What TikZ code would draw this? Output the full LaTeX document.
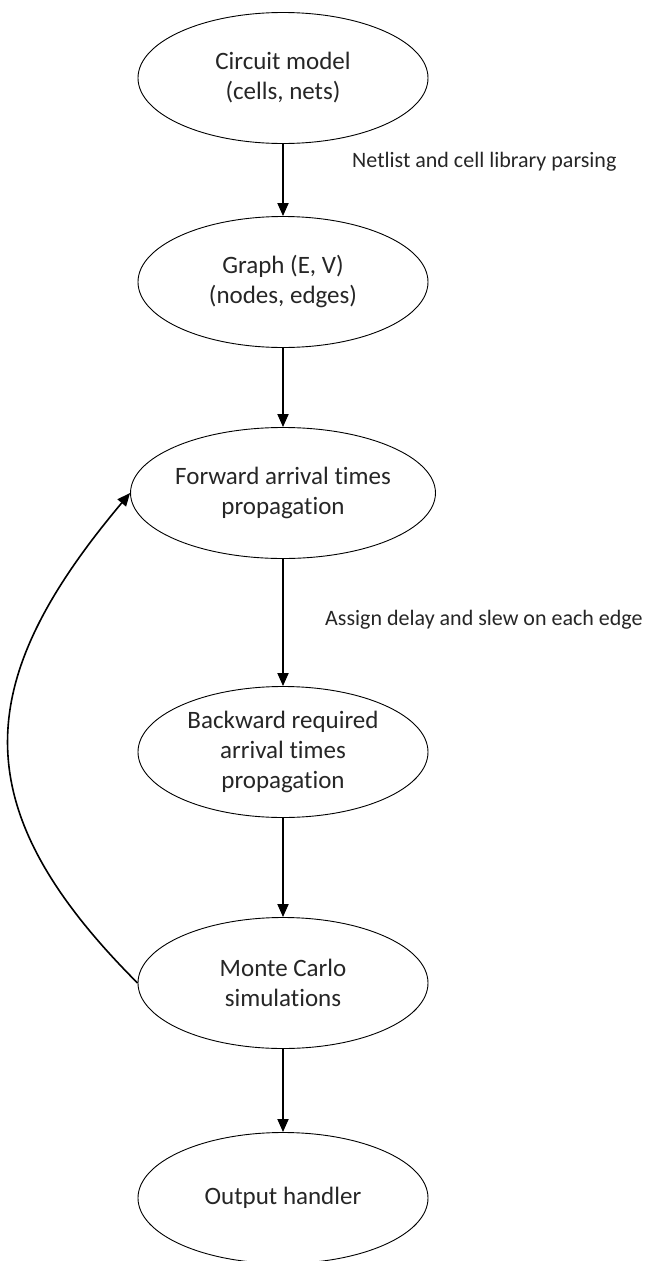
\documentclass[tikz,border=0pt]{standalone}
\usepackage{fontspec}
\setmainfont{Carlito}[Ligatures=NoCommon]
\usetikzlibrary{arrows.meta,shapes.geometric}
\begin{document}
\begin{tikzpicture}[x=1pt,y=-1pt,
  stage/.style={draw=black,line width=0.9pt,ellipse,minimum width=290pt,minimum height=131pt,
    inner sep=0pt,align=center,font=\fontsize{25}{30}\selectfont,text=black!85},
  flow/.style={line width=1.8pt,-{Triangle[length=13pt,width=11pt]}},
  note/.style={anchor=west,inner sep=0pt,font=\fontsize{22}{26}\selectfont,text=black!85}]
\useasboundingbox (0,0) rectangle (648,1261);
\fill[white] (0,0) rectangle (648,1261);

\node[stage] (model)  at (283,78)   {Circuit model\\(cells, nets)};
\node[stage] (graph)  at (283,282)  {Graph (E, V)\\(nodes, edges)};
\node[stage] (fwd)    at (283,493)  {Forward arrival times\\propagation};
\node[stage] (bwd)    at (283,752)  {Backward required\\arrival times\\propagation};
\node[stage] (mc)     at (283,983)  {Monte Carlo\\simulations};
\node[stage] (out)    at (283,1198) {Output handler};

\draw[flow] (model) -- (graph);
\draw[flow] (graph) -- (fwd);
\draw[flow] (fwd) -- (bwd);
\draw[flow] (bwd) -- (mc);
\draw[flow] (mc) -- (out);

% feedback loop from the simulations back to forward propagation
\draw[flow,line width=1.6pt] (mc.west) .. controls +(-175,-175) and +(-159,189) .. (fwd.west);

\node[note] (parse)  at (352,162) {Netlist and cell library parsing};
\node[note] (assign) at (325,620) {Assign delay and slew on each edge};
\end{tikzpicture}
\end{document}
